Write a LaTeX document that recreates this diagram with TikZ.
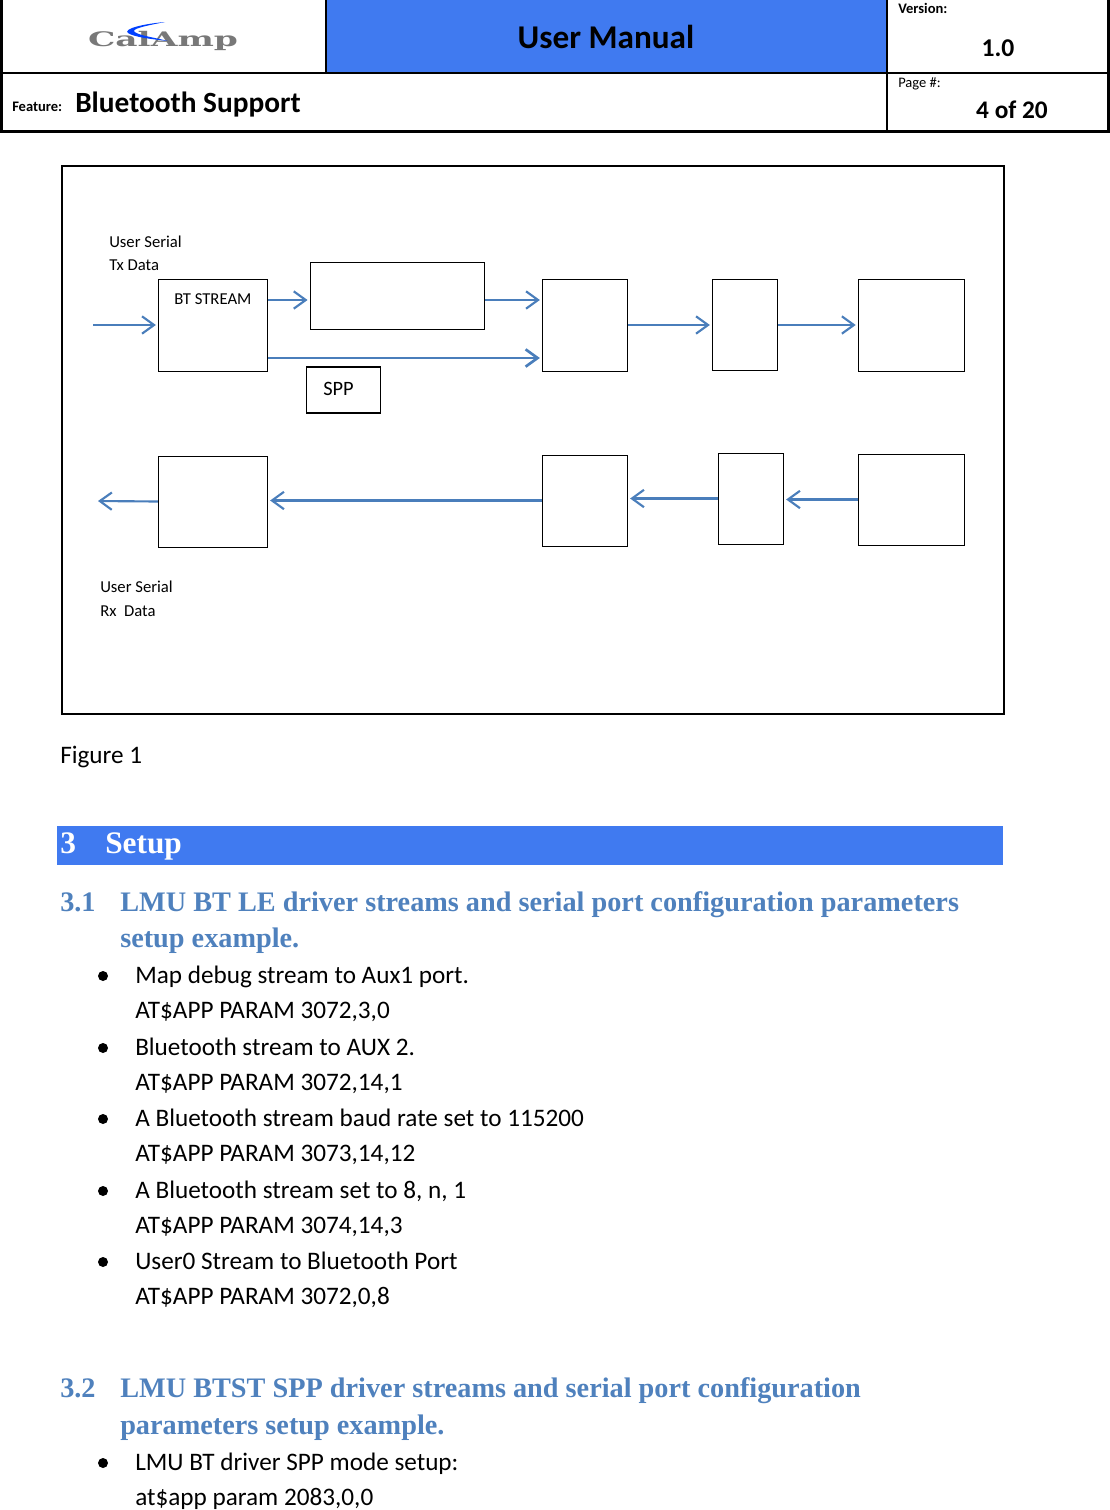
\documentclass[tikz,border=0pt]{standalone}
\usepackage{fontspec}
\setmainfont{Carlito}
\newfontfamily\headfont{Liberation Serif}
\newfontfamily\logofont{DejaVu Serif}
\usetikzlibrary{arrows.meta,positioning}
\definecolor{cBar}{RGB}{64,122,240}
\definecolor{cHead}{RGB}{79,129,189}
\definecolor{cArrow}{RGB}{74,126,187}
\definecolor{cLogo}{RGB}{120,120,120}
\tikzset{
	blk/.style={draw=black, line width=0.7pt, fill=white, inner sep=0pt},
	lbl/.style={inner sep=0pt, anchor=base west, font=\fontsize{12.5}{15}\selectfont},
	body/.style={inner sep=0pt, anchor=base west, font=\fontsize{18.9}{22}\selectfont},
	small/.style={inner sep=0pt, anchor=base west, font=\fontsize{10.9}{13}\selectfont},
	sect/.style={inner sep=0pt, anchor=base west, text=cHead, font=\fontsize{21.2}{25}\selectfont\headfont\bfseries},
	bar/.style={inner sep=0pt, anchor=base west, text=white, font=\fontsize{23.5}{28}\selectfont\headfont\bfseries},
	dot/.style={circle, fill=black, inner sep=0pt, minimum size=7.5pt},
	barr/.style={-{Straight Barb[length=9pt,width=13pt]}, line width=1.6pt, draw=cArrow, shorten >=1.5pt},
	hline/.style={draw=black, line width=1pt},
	hthick/.style={draw=black, line width=2.4pt},
}
\begin{document}
\begin{tikzpicture}[x=0.75pt,y=-0.75pt]
	\useasboundingbox (0,0) rectangle (1110,1510);

	% Page header
	\fill[cBar] (326,0) rectangle (887,73);
	\draw[hline] (0,73) -- (1110,73);
	\draw[draw=black,line width=1.2pt] (326,0) -- (326,73);
	\draw[draw=black,line width=1.6pt] (887,0) -- (887,131);
	\draw[hthick] (1.5,0) -- (1.5,131.5) -- (1108.5,131.5) -- (1108.5,0);
	\node[inner sep=0pt,anchor=base,xscale=1.72,text=cLogo,font=\fontsize{15}{15}\selectfont\logofont\bfseries] at (163,46) (logo) {CalAmp};
	\fill[blue!75!cyan] (165,22) .. controls (142,24) and (123,29) .. (128,33) .. controls (134,37) and (150,39) .. (168,41)
		.. controls (152,37) and (136,35) .. (134,31) .. controls (134,28) and (150,25) .. (165,22) -- cycle;
	\node[inner sep=0pt,font=\fontsize{24.9}{28}\selectfont\bfseries] at (606,37) (title) {User Manual};
	\node[small,font=\fontsize{10.9}{13}\selectfont\bfseries] at (12,111) (feat) {Feature:};
	\node[lbl,font=\fontsize{22}{26}\selectfont\bfseries] at (75,112) (feature) {Bluetooth Support};
	\node[small,font=\fontsize{10.9}{13}\selectfont\bfseries] at (898,13) (verlab) {Version:};
	\node[inner sep=0pt,font=\fontsize{19.2}{22}\selectfont\bfseries] at (998,48) (ver) {1.0};
	\node[small] at (898,87) (pagelab) {Page \#:};
	\node[inner sep=0pt,font=\fontsize{19}{22}\selectfont\bfseries] at (1012,110) (page) {4 of 20};

	% Figure frame
	\node[draw=black,line width=1.5pt,minimum width=706.5pt,minimum height=411pt,inner sep=0pt] at (533,439.5) (frame) {};

	% Tx row
	\node[blk,minimum width=82pt,minimum height=69pt] at (213,325) (stream) {};
	\node[lbl] at (174,304) (streamlab) {BT STREAM};
	\node[blk,line width=0.9pt,minimum width=131pt,minimum height=50pt] at (397.5,296) (mid) {};
	\node[blk,minimum width=64pt,minimum height=69pt] at (585,325) (txa) {};
	\node[blk,minimum width=49pt,minimum height=68pt] at (745,325) (txb) {};
	\node[blk,minimum width=80pt,minimum height=69pt] at (911.5,325) (txc) {};
	\node[blk,line width=1pt,minimum width=55.5pt,minimum height=34.5pt] at (343.5,390) (spp) {};
	\node[lbl,font=\fontsize{15.3}{18}\selectfont] at (323,395) (spplab) {SPP};
	\node[lbl] at (109,247) (txlab) {User Serial};
	\node[lbl] at (109,270) (txlabb) {Tx Data};

	% Rx row
	\node[blk,minimum width=82pt,minimum height=68.25pt] at (213,501.5) (rxd) {};
	\node[blk,minimum width=64pt,minimum height=68.25pt] at (585,500.5) (rxa) {};
	\node[blk,minimum width=49pt,minimum height=68.25pt] at (751,498.5) (rxb) {};
	\node[blk,minimum width=80pt,minimum height=68.25pt] at (911.5,499.5) (rxc) {};
	\node[lbl] at (100,592) (rxlab) {User Serial};
	\node[lbl] at (100,616) (rxlabb) {Rx\ \ Data};

	\coordinate (txin) at (93,325);
	\coordinate (rxout) at (96,501);

	% Tx arrows
	\draw[barr] (txin) -- (stream.west);
	\draw[barr] ([yshift=18.75pt]stream.east) -- ([yshift=-3pt]mid.west);
	\draw[barr] ([yshift=-3pt]mid.east) -- ([yshift=18.75pt]txa.west);
	\draw[barr,line width=2pt] ([yshift=-24.75pt]stream.east) -- ([yshift=-24.75pt]txa.west);
	\draw[barr] (txa) -- (txb);
	\draw[barr] (txb) -- (txc);

	% Rx arrows
	\draw[barr] (rxd.west) -- (rxout);
	\draw[barr] (rxa.west) -- (rxa.west -| rxd.east);
	\draw[barr] (rxb.west) -- (rxb.west -| rxa.east);
	\draw[barr] (rxc.west) -- (rxc.west -| rxb.east);

	% Caption
	\node[body] at (60,763) (caption) {Figure 1};

	% Section 3
	\fill[cBar] (57,826) rectangle (1003,865);
	\node[bar] at (60,853) (s3) {3};
	\node[bar] at (105,853) (s3t) {Setup};

	% Section 3.1
	\node[sect] at (60,911) (s31) {3.1};
	\node[sect] at (120,911) (s31a) {LMU BT LE driver streams and serial port configuration parameters};
	\node[sect] at (120,947) (s31b) {setup example.};
	\foreach \ypos/\first/\second in {
		983/Map debug stream to Aux1 port./AT\$APP PARAM 3072{,}3{,}0,
		1055/Bluetooth stream to AUX 2./AT\$APP PARAM 3072{,}14{,}1,
		1126/A Bluetooth stream baud rate set to 115200/AT\$APP PARAM 3073{,}14{,}12,
		1198/A Bluetooth stream set to 8{,} n{,} 1/AT\$APP PARAM 3074{,}14{,}3,
		1269/User0 Stream to Bluetooth Port/AT\$APP PARAM 3072{,}0{,}8}{
		\node[dot] at (103,\ypos-7) {};
		\node[body] at (135,\ypos) {\first};
		\node[body] at (135,\ypos+35) {\second};
	}

	% Section 3.2
	\node[sect] at (60,1397) (s32) {3.2};
	\node[sect] at (120,1397) (s32a) {LMU BTST SPP driver streams and serial port configuration};
	\node[sect] at (120,1434) (s32b) {parameters setup example.};
	\node[dot] at (103,1463) (d6) {};
	\node[body] at (135,1470) (b6) {LMU BT driver SPP mode setup:};
	\node[body] at (135,1505) (b6b) {at\$app param 2083,0,0};
\end{tikzpicture}
\end{document}
